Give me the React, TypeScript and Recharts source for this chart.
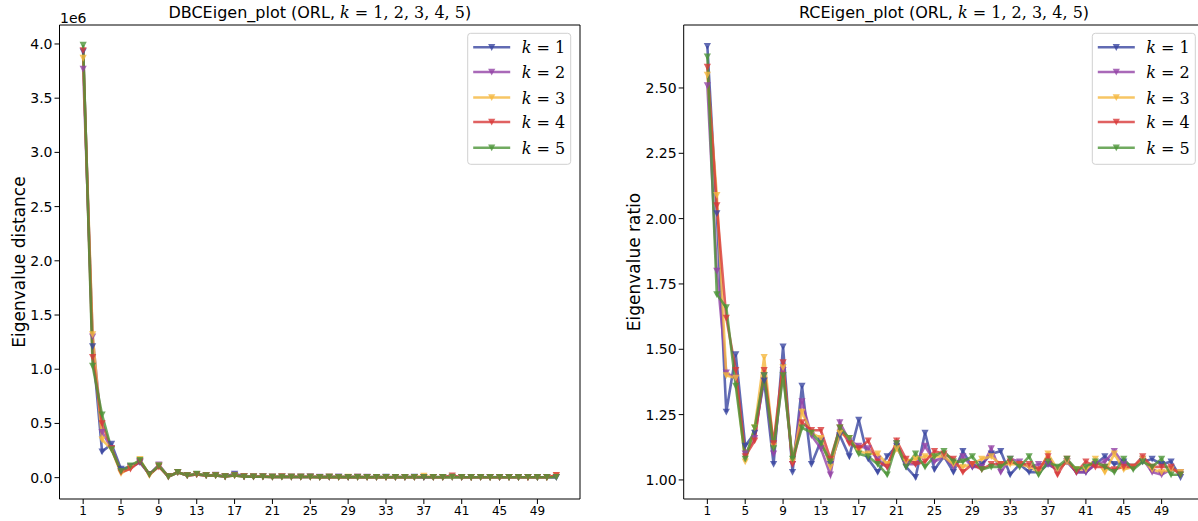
import { LineChart, Line, XAxis, YAxis, ReferenceLine } from "recharts";

const xIndex = [
  1, 2, 3, 4, 5, 6, 7, 8, 9, 10, 11, 12, 13, 14, 15, 16, 17, 18, 19, 20, 21, 22, 23, 24, 25, 26,
  27, 28, 29, 30, 31, 32, 33, 34, 35, 36, 37, 38, 39, 40, 41, 42, 43, 44, 45, 46, 47, 48, 49, 50, 51,
];
const xTicks = [1, 5, 9, 13, 17, 21, 25, 29, 33, 37, 41, 45, 49];
const distTicks = [0, 0.5, 1, 1.5, 2, 2.5, 3, 3.5, 4];
const ratioTicks = [1, 1.25, 1.5, 1.75, 2, 2.25, 2.5];

// eigenvalue distance, in units of 1e6
const dist_k1 = [
  3.93, 1.21, 0.24, 0.31, 0.08, 0.1, 0.14, 0.03, 0.11, 0.01, 0.05, 0.02, 0.03, 0.02, 0.02, 0.01, 0.035,
  0.012, 0.008, 0.01, 0.006, 0.009, 0.007, 0.006, 0.008, 0.005, 0.007, 0.006, 0.005, 0.006, 0.004, 0.005, 0.006,
  0.004, 0.005, 0.006, 0.004, 0.005, 0.004, 0.005, 0.004, 0.003, 0.004, 0.005, 0.003, 0.004, 0.003, 0.004, 0.003,
  0.004, 0.005,
];
const dist_k2 = [
  3.77, 1.3, 0.42, 0.27, 0.06, 0.1, 0.15, 0.03, 0.12, 0.01, 0.05, 0.02, 0.03, 0.02, 0.025, 0.01, 0.025,
  0.01, 0.009, 0.008, 0.007, 0.008, 0.006, 0.007, 0.006, 0.006, 0.005, 0.006, 0.005, 0.005, 0.006, 0.004, 0.005,
  0.004, 0.005, 0.004, 0.005, 0.004, 0.004, 0.005, 0.003, 0.004, 0.004, 0.003, 0.004, 0.003, 0.004, 0.003, 0.003,
  0.004, 0.004,
];
const dist_k3 = [
  3.87, 1.32, 0.35, 0.26, 0.04, 0.09, 0.17, 0.02, 0.11, 0.01, 0.05, 0.02, 0.03, 0.02, 0.02, 0.01, 0.02,
  0.011, 0.008, 0.009, 0.007, 0.008, 0.006, 0.007, 0.006, 0.005, 0.006, 0.005, 0.006, 0.005, 0.005, 0.004, 0.005,
  0.004, 0.005, 0.004, 0.015, 0.004, 0.005, 0.004, 0.004, 0.003, 0.004, 0.003, 0.004, 0.003, 0.004, 0.003, 0.004,
  0.003, 0.02,
];
const dist_k4 = [
  3.94, 1.11, 0.5, 0.27, 0.05, 0.08, 0.15, 0.03, 0.1, 0.01, 0.05, 0.02, 0.03, 0.02, 0.02, 0.01, 0.02,
  0.01, 0.008, 0.009, 0.006, 0.008, 0.007, 0.006, 0.007, 0.005, 0.006, 0.005, 0.005, 0.006, 0.004, 0.005, 0.004,
  0.005, 0.004, 0.005, 0.004, 0.004, 0.005, 0.018, 0.004, 0.003, 0.004, 0.004, 0.003, 0.004, 0.003, 0.003, 0.004,
  0.003, 0.022,
];
const dist_k5 = [
  3.99, 1.03, 0.58, 0.26, 0.06, 0.11, 0.16, 0.03, 0.11, 0.01, 0.05, 0.02, 0.035, 0.02, 0.02, 0.01, 0.02,
  0.009, 0.008, 0.008, 0.006, 0.007, 0.006, 0.006, 0.006, 0.005, 0.006, 0.005, 0.005, 0.005, 0.004, 0.005, 0.004,
  0.004, 0.005, 0.004, 0.004, 0.004, 0.005, 0.006, 0.004, 0.003, 0.004, 0.003, 0.004, 0.003, 0.003, 0.004, 0.003,
  0.003, 0.004,
];

// eigenvalue ratio
const ratio_k1 = [
  2.66, 2.02, 1.26, 1.48, 1.13, 1.18, 1.38, 1.06, 1.51, 1.03, 1.36, 1.06, 1.15, 1.06, 1.17, 1.09, 1.23,
  1.08, 1.03, 1.09, 1.13, 1.05, 1.01, 1.18, 1.04, 1.09, 1.03, 1.11, 1.05, 1.06, 1.1, 1.11, 1.02, 1.06,
  1.03, 1.03, 1.06, 1.04, 1.07, 1.03, 1.03, 1.06, 1.09, 1.06, 1.07, 1.05, 1.07, 1.08, 1.06, 1.07, 1.01,
];
const ratio_k2 = [
  2.51, 1.8, 1.41, 1.39, 1.1, 1.16, 1.4, 1.1, 1.42, 1.06, 1.3, 1.17, 1.12, 1.02, 1.22, 1.15, 1.13,
  1.12, 1.08, 1.05, 1.14, 1.06, 1.06, 1.13, 1.07, 1.09, 1.05, 1.09, 1.05, 1.05, 1.12, 1.03, 1.08, 1.07,
  1.05, 1.06, 1.06, 1.04, 1.07, 1.03, 1.03, 1.06, 1.07, 1.11, 1.06, 1.05, 1.08, 1.03, 1.02, 1.04, 1.03,
];
const ratio_k3 = [
  2.55, 2.09, 1.4, 1.39, 1.07, 1.2, 1.47, 1.13, 1.43, 1.07, 1.26, 1.18, 1.16, 1.05, 1.18, 1.16, 1.11,
  1.1, 1.1, 1.06, 1.12, 1.07, 1.08, 1.09, 1.09, 1.09, 1.06, 1.05, 1.06, 1.08, 1.09, 1.06, 1.06, 1.06,
  1.05, 1.03, 1.1, 1.04, 1.07, 1.04, 1.04, 1.08, 1.03, 1.1, 1.04, 1.05, 1.08, 1.04, 1.03, 1.04, 1.03,
];
const ratio_k4 = [
  2.58, 2.05, 1.62, 1.42, 1.09, 1.15, 1.42, 1.14, 1.45, 1.06, 1.22, 1.19, 1.19, 1.08, 1.2, 1.14, 1.12,
  1.15, 1.07, 1.05, 1.15, 1.08, 1.06, 1.07, 1.11, 1.1, 1.08, 1.03, 1.06, 1.04, 1.06, 1.06, 1.07, 1.06,
  1.06, 1.04, 1.09, 1.02, 1.08, 1.03, 1.07, 1.05, 1.05, 1.04, 1.05, 1.05, 1.09, 1.05, 1.05, 1.05, 1.02,
];
const ratio_k5 = [
  2.62, 1.71, 1.66, 1.36, 1.08, 1.2, 1.4, 1.12, 1.4, 1.08, 1.2, 1.18, 1.14, 1.07, 1.2, 1.16, 1.1,
  1.09, 1.06, 1.02, 1.14, 1.05, 1.1, 1.05, 1.09, 1.11, 1.07, 1.07, 1.09, 1.04, 1.05, 1.05, 1.08, 1.05,
  1.09, 1.02, 1.07, 1.05, 1.08, 1.04, 1.05, 1.07, 1.05, 1.03, 1.08, 1.04, 1.07, 1.05, 1.08, 1.02, 1.02,
];

const seriesKeys = ["k1", "k2", "k3", "k4", "k5"];
const seriesLabels = ["1", "2", "3", "4", "5"];
const seriesColors = ["#3a46a0", "#9444a6", "#f5b83f", "#d83a3a", "#4c9538"];

const distData = xIndex.map((x, i) => ({
  x,
  k1: dist_k1[i],
  k2: dist_k2[i],
  k3: dist_k3[i],
  k4: dist_k4[i],
  k5: dist_k5[i],
}));
const ratioData = xIndex.map((x, i) => ({
  x,
  k1: ratio_k1[i],
  k2: ratio_k2[i],
  k3: ratio_k3[i],
  k4: ratio_k4[i],
  k5: ratio_k5[i],
}));

const FONT = "DejaVu Sans, sans-serif";
const MATH = "DejaVu Serif, serif";
const ALPHA = 0.8;

const triangle = (color: string) => (props: any) => {
  const { cx, cy, index } = props;
  if (cx == null || cy == null) return <g key={index} />;
  return (
    <path
      key={index}
      d={`M${cx - 3.6},${cy - 3.2}L${cx + 3.6},${cy - 3.2}L${cx},${cy + 3.6}Z`}
      fill={color}
      fillOpacity={ALPHA}
    />
  );
};

function Panel({ data, yDomain, yTicks, digits, yWidth, marginRight }: any) {
  const xDomain = [-1.5, 53.5];
  return (
    <LineChart
      width={600}
      height={521}
      data={data}
      margin={{ top: 25, right: marginRight, bottom: 0, left: 0 }}
    >
      <XAxis
        type="number"
        dataKey="x"
        domain={xDomain}
        ticks={xTicks}
        allowDataOverflow
        height={22}
        tickSize={5}
        tickMargin={2}
        stroke="#000"
        tick={{ fill: "#000", fontSize: 12, fontFamily: FONT }}
      />
      <YAxis
        type="number"
        domain={yDomain}
        ticks={yTicks}
        allowDataOverflow
        width={yWidth}
        tickSize={5}
        tickMargin={2}
        stroke="#000"
        tickFormatter={(v: number) => v.toFixed(digits)}
        tick={{ fill: "#000", fontSize: 14, fontFamily: FONT }}
      />
      <ReferenceLine y={yDomain[1]} stroke="#000" strokeWidth={1} />
      <ReferenceLine x={xDomain[1]} stroke="#000" strokeWidth={1} />
      {seriesKeys.map((k, i) => (
        <Line
          key={k}
          dataKey={k}
          type="linear"
          stroke={seriesColors[i]}
          strokeOpacity={ALPHA}
          strokeWidth={2.6}
          dot={triangle(seriesColors[i])}
          activeDot={false}
          isAnimationActive={false}
        />
      ))}
    </LineChart>
  );
}

function LegendBox({ x }: { x: number }) {
  const rows = [47.3, 72, 97.5, 122, 147.7];
  return (
    <g>
      <rect x={x} y={33.3} width={103} height={131} rx={3} fill="#fff" fillOpacity={0.8} stroke="#d0d0d0" />
      {seriesKeys.map((k, i) => (
        <g key={k}>
          <line x1={x + 5.5} x2={x + 42.5} y1={rows[i]} y2={rows[i]} stroke={seriesColors[i]} strokeOpacity={ALPHA} strokeWidth={2.6} />
          <path
            d={`M${x + 20.4},${rows[i] - 3.2}L${x + 27.6},${rows[i] - 3.2}L${x + 24},${rows[i] + 3.6}Z`}
            fill={seriesColors[i]}
            fillOpacity={ALPHA}
          />
          <text x={x + 54} y={rows[i] + 6} fontSize={16} fill="#000" fontFamily={MATH}>
            <tspan fontStyle="italic">k</tspan>
            <tspan> = {seriesLabels[i]}</tspan>
          </text>
        </g>
      ))}
    </g>
  );
}

function Title({ cx, name }: { cx: number; name: string }) {
  return (
    <text x={cx} y={18} textAnchor="middle" fontSize={16} fill="#000" fontFamily={FONT}>
      {name} (ORL,{" "}
      <tspan fontFamily={MATH} fontStyle="italic">k</tspan>
      <tspan fontFamily={MATH}> = 1, 2, 3, 4, 5</tspan>)
    </text>
  );
}

export default function App() {
  return (
    <div style={{ position: "absolute", left: 0, top: 0, width: 1198, height: 521, overflow: "hidden", background: "#fff" }}>
      <div style={{ position: "absolute", left: 0, top: 0 }}>
        <Panel data={distData} yDomain={[-0.197, 4.175]} yTicks={distTicks} digits={1} yWidth={59.5} marginRight={20} />
      </div>
      <div style={{ position: "absolute", left: 620, top: 0 }}>
        <Panel data={ratioData} yDomain={[0.927, 2.741]} yTicks={ratioTicks} digits={2} yWidth={63.7} marginRight={15.8} />
      </div>
      <svg width={1198} height={521} style={{ position: "absolute", left: 0, top: 0, pointerEvents: "none" }}>
        <Title cx={319.8} name="DBCEigen_plot" />
        <Title cx={944} name="RCEigen_plot" />
        <text x={60} y={23} fontSize={14} fill="#000" fontFamily={FONT}>1e6</text>
        <text x={25} y={262} transform="rotate(-90, 25, 262)" textAnchor="middle" fontSize={17} fill="#000" fontFamily={FONT}>
          Eigenvalue distance
        </text>
        <text x={640} y={262} transform="rotate(-90, 640, 262)" textAnchor="middle" fontSize={17} fill="#000" fontFamily={FONT}>
          Eigenvalue ratio
        </text>
        <LegendBox x={467.7} />
        <LegendBox x={1092.3} />
      </svg>
    </div>
  );
}
